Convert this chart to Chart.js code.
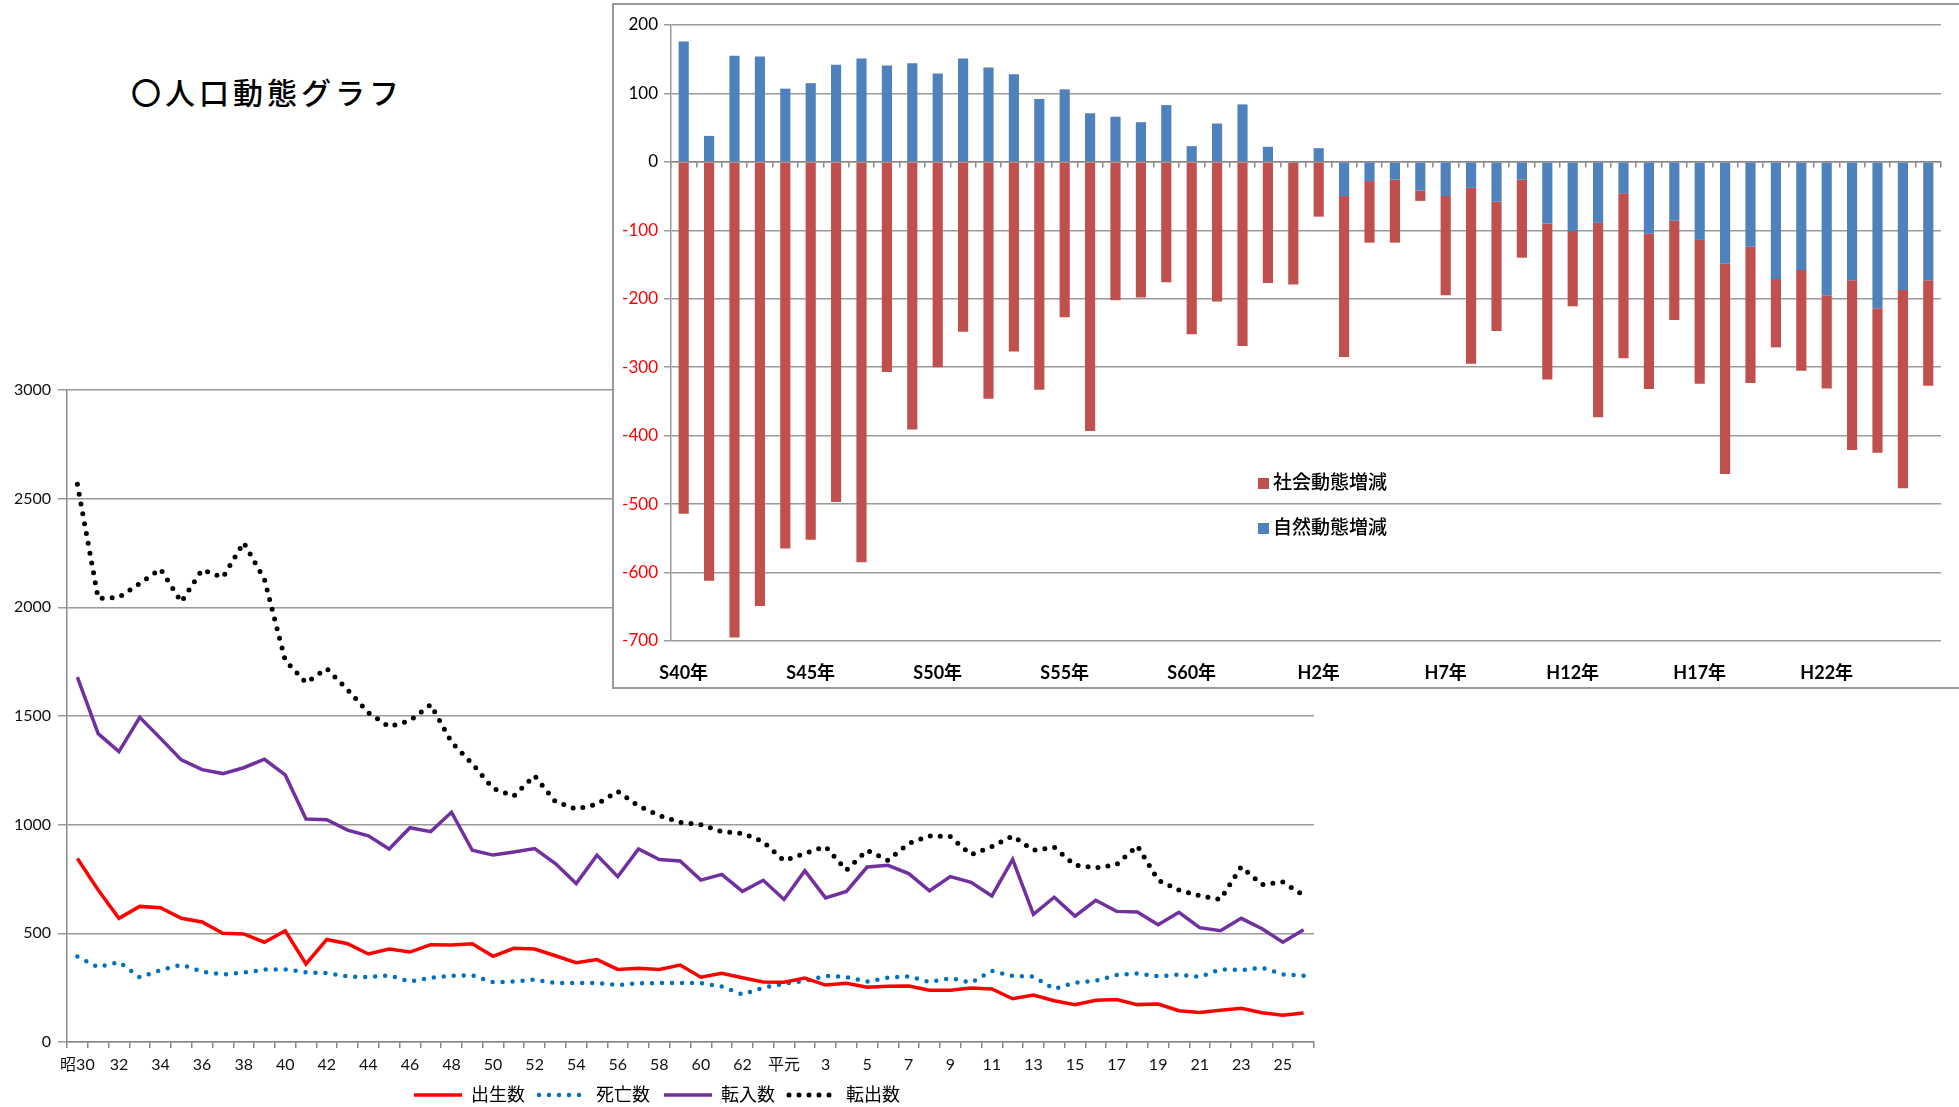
<!DOCTYPE html>
<html lang="ja">
<head>
<meta charset="utf-8">
<title>人口動態グラフ</title>
<script src="https://cdn.jsdelivr.net/npm/chart.js@4.4.1/dist/chart.umd.min.js"></script>
<style>
  html, body { margin: 0; padding: 0; background: #fff; }
  body { width: 1959px; height: 1107px; position: relative; overflow: hidden; font-family: Lato, "Noto Sans CJK JP", sans-serif; }
  #title { position: absolute; left: 131px; top: 74px; font-family: "Noto Sans CJK JP", sans-serif; font-size: 30px; font-weight: 500; line-height: 34px; letter-spacing: 4px; color: #000; }
  #lineBox { position: absolute; left: 0; top: 370px; width: 1330px; height: 737px; }
  #barBox { position: absolute; left: 612px; top: 3px; width: 1347px; height: 686px; box-sizing: border-box; border: 2px solid #9a9a9a; border-right: none; background: #fff; }
  #barLegend { position: absolute; left: 1258px; top: 458px; font-family: "Noto Sans CJK JP", sans-serif; font-size: 19px; font-weight: 500; line-height: 45px; color: #000; }
  #barLegend .sw { display: inline-block; width: 11px; height: 11px; margin-right: 4px; vertical-align: 0px; }
</style>
</head>
<body>
<div id="title">〇人口動態グラフ</div>
<div id="lineBox"><canvas id="lineChart"></canvas></div>
<div id="barBox"><canvas id="barChart"></canvas></div>
<div id="barLegend"></div>
<script>
// 下のグラフ：昭30〜平26
const yearLabels = [
  "昭30", "31", "32", "33", "34", "35", "36", "37", "38", "39",
  "40", "41", "42", "43", "44", "45", "46", "47", "48", "49",
  "50", "51", "52", "53", "54", "55", "56", "57", "58", "59",
  "60", "61", "62", "63", "平元", "2", "3", "4", "5", "6",
  "7", "8", "9", "10", "11", "12", "13", "14", "15", "16",
  "17", "18", "19", "20", "21", "22", "23", "24", "25", "26"
];
const births = [
  844, 699, 569, 624, 618, 569, 552, 500, 497, 459,
  512, 359, 472, 452, 405, 428, 414, 448, 446, 452,
  394, 431, 428, 397, 365, 379, 334, 339, 334, 354,
  298, 316, 296, 276, 275, 294, 262, 270, 252, 256,
  258, 238, 238, 248, 244, 199, 216, 190, 172, 192,
  195, 172, 175, 144, 136, 146, 155, 135, 123, 133
];
const deaths = [
  393, 344, 368, 298, 331, 356, 324, 311, 319, 333,
  334, 321, 317, 302, 298, 307, 278, 296, 305, 307,
  275, 278, 287, 271, 271, 271, 262, 270, 271, 271,
  271, 255, 219, 250, 268, 281, 304, 299, 278, 296,
  302, 276, 294, 273, 327, 304, 301, 244, 273, 282,
  308, 316, 302, 310, 299, 334, 331, 342, 311, 305
];
const moveIn = [
  1679, 1419, 1336, 1494, 1397, 1298, 1253, 1235, 1262, 1301,
  1229, 1026, 1023, 975, 949, 888, 986, 968, 1057, 882,
  860, 874, 890, 821, 729, 860, 761, 888, 840, 833,
  745, 771, 693, 744, 656, 788, 663, 693, 805, 813,
  775, 696, 761, 735, 672, 840, 587, 666, 579, 652,
  601, 598, 540, 597, 526, 512, 569, 521, 459, 517
];
const moveOut = [
  2566, 2041, 2046, 2110, 2176, 2025, 2173, 2138, 2298, 2129,
  1756, 1653, 1718, 1621, 1515, 1451, 1479, 1552, 1380, 1280,
  1167, 1132, 1225, 1106, 1072, 1094, 1153, 1086, 1042, 1011,
  1000, 968, 960, 922, 834, 868, 899, 791, 882, 836,
  914, 948, 945, 862, 899, 948, 882, 896, 814, 802,
  816, 903, 745, 699, 673, 656, 807, 724, 736, 675
];

// 上のグラフ：S40〜H26
const barYears = [
  "S40年", "S41年", "S42年", "S43年", "S44年", "S45年", "S46年", "S47年", "S48年", "S49年",
  "S50年", "S51年", "S52年", "S53年", "S54年", "S55年", "S56年", "S57年", "S58年", "S59年",
  "S60年", "S61年", "S62年", "S63年", "H1年", "H2年", "H3年", "H4年", "H5年", "H6年",
  "H7年", "H8年", "H9年", "H10年", "H11年", "H12年", "H13年", "H14年", "H15年", "H16年",
  "H17年", "H18年", "H19年", "H20年", "H21年", "H22年", "H23年", "H24年", "H25年", "H26年"
];
const naturalChange = [
  176, 38, 155, 154, 107, 115, 142, 151, 141, 144,
  129, 151, 138, 128, 92, 106, 71, 66, 58, 83,
  23, 56, 84, 22, 0, 20, -50, -28, -26, -42,
  -50, -38, -58, -26, -90, -101, -89, -46, -105, -86,
  -114, -149, -124, -171, -158, -195, -173, -214, -187, -173
];
const socialChange = [
  -514, -612, -695, -649, -565, -552, -497, -585, -307, -391,
  -300, -248, -346, -277, -333, -227, -393, -202, -198, -176,
  -252, -204, -269, -177, -179, -80, -235, -90, -92, -15,
  -145, -257, -189, -114, -228, -110, -284, -241, -227, -145,
  -210, -307, -199, -100, -147, -136, -248, -211, -290, -154
];

Chart.defaults.font.family = "Lato, 'Noto Sans CJK JP', sans-serif";

// legend is a bit shorter than Chart.js makes it
const shortLegend = {
  id: "shortLegend",
  beforeInit(chart) {
    const fit = chart.legend.fit;
    chart.legend.fit = function () {
      fit.bind(chart.legend)();
      this.height -= 7;
    };
  },
};

const lineChart = new Chart(document.getElementById("lineChart"), {
  type: "line",
  data: {
    labels: yearLabels,
    datasets: [
      { label: "出生数", data: births, borderColor: "#FF0000", borderWidth: 3.5 },
      { label: "死亡数", data: deaths, borderColor: "#0070C0", borderWidth: 4.5, borderDash: [0, 10], borderCapStyle: "round" },
      { label: "転入数", data: moveIn, borderColor: "#7030A0", borderWidth: 3.5 },
      { label: "転出数", data: moveOut, borderColor: "#000000", borderWidth: 5, borderDash: [0, 10], borderCapStyle: "round" },
    ],
  },
  options: {
    responsive: true,
    maintainAspectRatio: false,
    animation: false,
    elements: { point: { radius: 0 }, line: { tension: 0 } },
    layout: { padding: { top: 20, right: 16 } },
    scales: {
      x: {
        offset: true,
        grid: { offset: true, drawOnChartArea: false, tickLength: 6, color: "#888", lineWidth: 1.5 },
        border: { color: "#888", width: 1.5 },
        ticks: {
          autoSkip: false,
          maxRotation: 0,
          padding: 7,
          font: { size: 16 },
          color: "#111",
          callback: (v, i) => (i % 2 === 0 ? yearLabels[i] : ""),
        },
        afterFit: (s) => { s.height = 30; },
      },
      y: {
        min: 0,
        max: 3000,
        ticks: { stepSize: 500, font: { size: 16 }, color: "#111", padding: 7, callback: (v) => String(v) },
        grid: { color: "#9a9a9a", lineWidth: 1.5, tickLength: 9 },
        border: { color: "#888", width: 1.5 },
        afterFit: (s) => { s.width = 67; },
      },
    },
    plugins: {
      legend: {
        position: "bottom",
        labels: {
          usePointStyle: true,
          pointStyle: "line",
          pointStyleWidth: 48,
          font: { size: 18 },
          color: "#000",
          padding: 14,
          // keep the dotted style of each series in the legend
          generateLabels: (chart) =>
            Chart.defaults.plugins.legend.labels.generateLabels(chart).map((item, i) => {
              const ds = chart.data.datasets[i];
              return {
                ...item,
                strokeStyle: ds.borderColor,
                lineWidth: ds.borderWidth,
                lineDash: ds.borderDash || [],
                lineCap: ds.borderCapStyle || "butt",
              };
            }),
        },
      },
      tooltip: { enabled: false },
    },
  },
  plugins: [shortLegend],
});

const barChart = new Chart(document.getElementById("barChart"), {
  type: "bar",
  data: {
    labels: barYears,
    datasets: [
      { label: "自然動態増減", data: naturalChange, backgroundColor: "#4F81BD", xAxisID: "x" },
      { label: "社会動態増減", data: socialChange, backgroundColor: "#C0504D", xAxisID: "x" },
    ],
  },
  options: {
    responsive: true,
    maintainAspectRatio: false,
    animation: false,
    datasets: { bar: { barPercentage: 0.4, categoryPercentage: 1 } },
    layout: { padding: { top: 20, right: 18 } },
    scales: {
      x: {
        stacked: true,
        grid: { display: false },
        border: { display: false },
        ticks: {
          autoSkip: false,
          maxRotation: 0,
          padding: 13,
          font: { size: 18, weight: "bold" },
          color: "#000",
          callback: (v, i) => (i % 5 === 0 ? barYears[i] : ""),
        },
        afterFit: (s) => { s.height = 46; },
      },
      // zero line with tick marks, like the Excel axis
      x0: {
        axis: "x",
        type: "category",
        position: { y: 0 },
        offset: true,
        grid: { offset: true, drawOnChartArea: false, tickLength: 5, color: "#888", lineWidth: 1.5 },
        border: { color: "#888", width: 1.5 },
        ticks: { display: false },
      },
      y: {
        stacked: true,
        min: -700,
        max: 200,
        ticks: {
          stepSize: 100,
          font: { size: 17 },
          color: (c) => (c.tick.value < 0 ? "#FF0000" : "#000"),
          padding: 6,
        },
        grid: { color: "#9a9a9a", lineWidth: 1.5, tickLength: 7 },
        border: { color: "#999", width: 1.5 },
        afterFit: (s) => { s.width = 57; },
      },
    },
    plugins: { legend: { display: false }, tooltip: { enabled: false } },
  },
});

// Excel-style legend inside the plot, social first
const legendEl = document.getElementById("barLegend");
barChart.data.datasets.slice().reverse().forEach((ds) => {
  const row = document.createElement("div");
  const sw = document.createElement("span");
  sw.className = "sw";
  sw.style.background = ds.backgroundColor;
  row.appendChild(sw);
  row.appendChild(document.createTextNode(ds.label));
  legendEl.appendChild(row);
});
</script>
</body>
</html>
